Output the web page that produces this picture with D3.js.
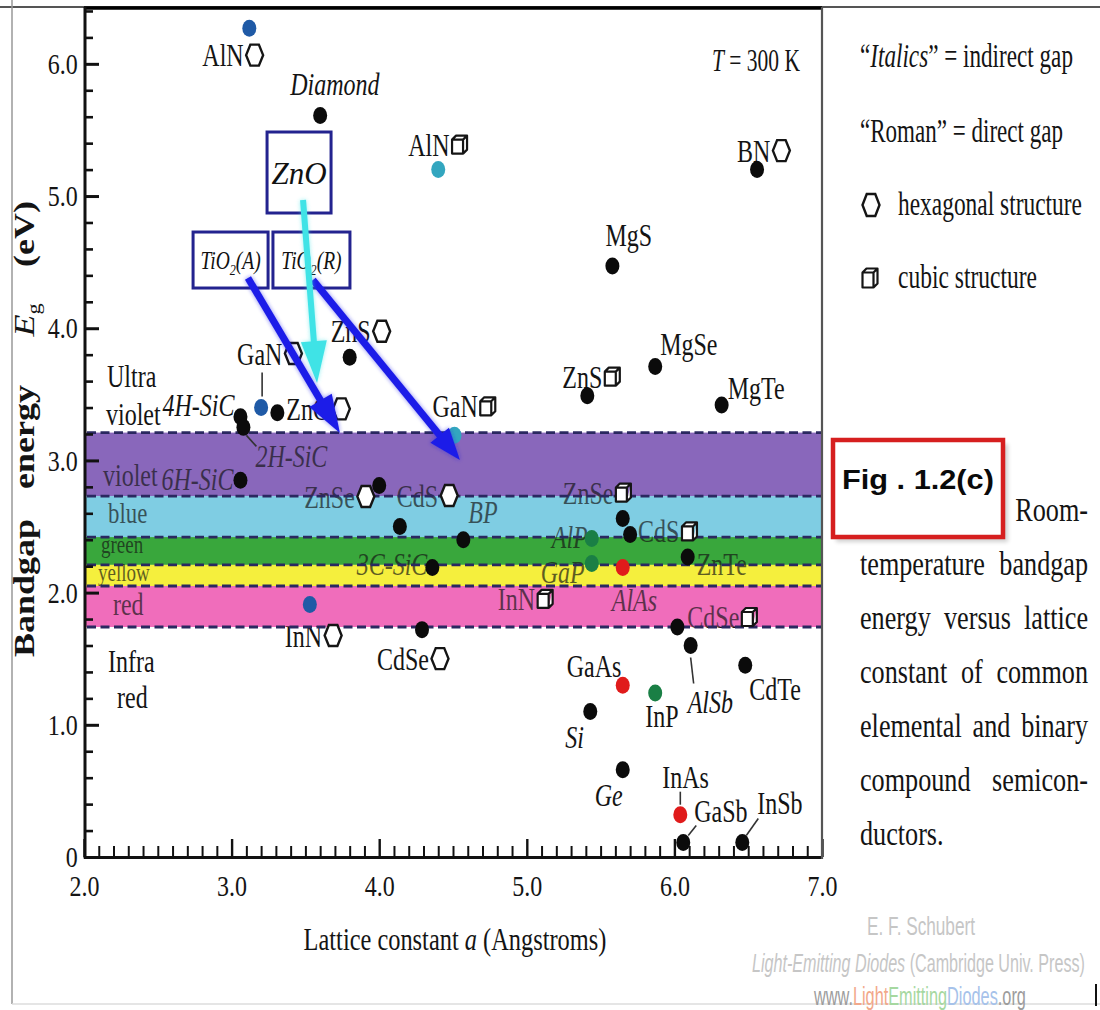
<!DOCTYPE html>
<html><head><meta charset="utf-8">
<script src="https://cdn.jsdelivr.net/npm/d3@7"></script>
<style>html,body{margin:0;padding:0;background:#fff}svg{display:block}</style>
</head><body>
<svg id="chart" width="1100" height="1010"></svg>
<script>
// ---------------- DATA ----------------
const compounds = ["AlN","Diamond","AlN","BN","MgS","ZnS","MgSe","ZnS","MgTe","GaN","ZnO","4H-SiC","2H-SiC","6H-SiC","GaN","ZnSe","CdS","BP","3C-SiC","InN","CdSe","ZnSe","CdS","AlP","GaP","AlAs","ZnTe","CdSe","AlSb","CdTe","GaAs","InP","Si","Ge","InAs","GaSb","InSb","InN"];
const latticeConstant = [3.12,3.60,4.40,6.56,5.58,3.80,5.87,5.41,6.32,3.20,3.31,3.06,3.08,3.06,4.51,4.00,4.14,4.57,4.36,3.53,4.29,5.65,5.70,5.44,5.44,5.65,6.09,6.02,6.11,6.48,5.65,5.87,5.43,5.65,6.04,6.06,6.46,4.98];
const bandgapEnergy = [6.27,5.61,5.20,5.20,4.47,3.78,3.71,3.49,3.42,3.40,3.36,3.33,3.25,2.85,3.19,2.81,2.50,2.40,2.19,1.91,1.72,2.56,2.44,2.41,2.22,2.19,2.27,1.74,1.60,1.45,1.30,1.24,1.10,0.66,0.32,0.11,0.11,1.93];
const gapType = ["direct","indirect","direct","direct","direct","direct","direct","direct","direct","direct","direct","indirect","indirect","indirect","direct","direct","direct","indirect","indirect","direct","direct","direct","direct","indirect","indirect","indirect","direct","direct","indirect","direct","direct","direct","indirect","indirect","direct","direct","direct","direct"];
const crystal = ["hex","","cub","hex","","hex","","cub","","hex","hex","","","","cub","hex","hex","","","hex","hex","cub","cub","","","","","cub","","","","","","","","","","cub"];
const dotGroup = ["blue","black","teal","black","black","black","black","black","black","blue","black","black","black","black","teal","black","black","black","black","blue","black","black","black","green","green","red","black","black","black","black","red","green","black","black","red","black","black","none"];

const bandNames = ["violet","blue","green","yellow","red"];
const bandTop =    [3.21, 2.73, 2.42, 2.21, 2.05];
const bandBottom = [2.73, 2.42, 2.21, 2.05, 1.74];
const bandEdges = [3.21, 2.73, 2.42, 2.21, 2.05, 1.74];

const spectrumLabels = ["Ultra","violet","violet","blue","green","yellow","red","Infra","red"];
const spectrumLabelA  = [2.156,2.149,2.129,2.163,2.115,2.095,2.196,2.163,2.224];
const spectrumLabelEg = [3.555,3.268,2.806,2.530,2.300,2.085,1.831,1.399,1.127];

const xTickValues = [2,3,4,5,6,7];
const xTickLabels = ["2.0","3.0","4.0","5.0","6.0","7.0"];
const yTickValues = [0,1,2,3,4,5,6];
const yTickLabels = ["0","1.0","2.0","3.0","4.0","5.0","6.0"];

const oxideLabels = ["ZnO","TiO2(A)","TiO2(R)"];
const oxideBoxA  = [3.457, 2.993, 3.541];
const oxideBoxEg = [5.178, 4.516, 4.516];
const arrowStartA  = [3.484, 3.111, 3.551];
const arrowStartEg = [4.970, 4.380, 4.365];
const arrowEndA    = [3.579, 3.734, 4.547];
const arrowEndEg   = [3.585, 3.207, 3.003];

// ---------------- LAYOUT / STYLE ----------------
const labelLayout = [[-47,38,"start"],[-30,-20,"start"],[-30,-14,"start"],[-20,-8,"start"],[-7,-20,"start"],[-19,-15,"start"],[5,-12,"start"],[-25,-8,"start"],[6,-6,"start"],[-24,-43,"start"],[9,7,"start"],[-6,-1,"end"],[12,40,"start"],[-7,10,"end"],[-22,-18,"start"],[-75,22,"start"],[-3,-20,"start"],[5,-17,"start"],[-5,8,"end"],[-25,42,"start"],[-45,40,"start"],[-60,-15,"start"],[8,8,"start"],[-4,10,"end"],[-7,19,"end"],[-11,44,"start"],[9,18,"start"],[10,1,"start"],[-3,68,"start"],[4,35,"start"],[-56,-8,"start"],[-10,34,"start"],[-25,36,"start"],[-28,36,"start"],[-18,-27,"start"],[11,-20,"start"],[15,-28,"start"],[-26,8,"start"]];
const leaders = {9:[1,-35,1,-11],12:[3,8,13,19],28:[0,12,3,38],34:[0,-23,0,-10],35:[5,-7,13,-17],36:[4,-7,16,-24]};
const dotColors = {black:"#0b0b0b",blue:"#1f5aa6",teal:"#33a6bf",red:"#e01b1b",green:"#1a7f45"};
const bandColors = {violet:"#8a68bb",blue:"#7fcde3",green:"#3aa83c",yellow:"#f5ef3e",red:"#f06dbb"};
const SERIF = "'Liberation Serif','Times New Roman',serif";
const SANS = "'Liberation Sans',Arial,sans-serif";
const INK = "#141414";

const svg = d3.select("#chart");
const x = d3.scaleLinear().domain([2,7]).range([84,822]);
const y = d3.scaleLinear().domain([0,6.43]).range([857,7]);

function addText(parent, px, py, parts, o){
  const sx = o.sx || 1;
  const t = parent.append("text")
    .attr("font-family", o.family || SERIF)
    .attr("font-size", o.size)
    .attr("font-weight", o.weight || "normal")
    .attr("text-anchor", o.anchor || "start")
    .attr("fill", o.fill || INK);
  parts.forEach(p=>{
    const ts = t.append("tspan").text(p.t);
    if (p.italic) ts.attr("font-style","italic");
    if (p.fill) ts.attr("fill",p.fill);
    if (p.sub) ts.attr("font-size", o.size*0.62).attr("dy", o.size*0.22);
    if (p.unsub) ts.attr("dy", -o.size*0.22);
  });
  let s = sx;
  if (o.width) s = o.width / t.node().getComputedTextLength();
  t.attr("transform", `translate(${px},${py}) scale(${s},1)` + (o.rotate ? ` rotate(${o.rotate})` : ""));
  return t;
}
function hexPath(cx, cy, w, h){
  return `M${cx-w/2},${cy}L${cx-w/4},${cy-h/2}L${cx+w/4},${cy-h/2}L${cx+w/2},${cy}L${cx+w/4},${cy+h/2}L${cx-w/4},${cy+h/2}Z`;
}
function cubePath(cx, cy, w, h){
  const d=4, l=cx-w/2, r=cx+w/2, t=cy-h/2, b=cy+h/2;
  return `M${l},${t+d}H${r-d}V${b}H${l}Z M${l},${t+d}L${l+d},${t}H${r}L${r-d},${t+d} M${r},${t}V${b-d}L${r-d},${b}`;
}

// layers
const gBand = svg.append("g");
const gText = svg.append("g");
const gOverlay = svg.append("g");
const gDash = svg.append("g");
const gAxis = svg.append("g");
const gLead = svg.append("g");
const gDot = svg.append("g");
const gMark = svg.append("g");
const gAnno = svg.append("g");
const gSide = svg.append("g");

// ---------------- bands ----------------
bandNames.forEach((b,i)=>{
  gBand.append("rect").attr("x",x(2)).attr("width",x(7)-x(2))
    .attr("y",y(bandTop[i])).attr("height",y(bandBottom[i])-y(bandTop[i]))
    .attr("fill",bandColors[b]);
  gOverlay.append("rect").attr("x",x(2)).attr("width",x(7)-x(2))
    .attr("y",y(bandTop[i])).attr("height",y(bandBottom[i])-y(bandTop[i]))
    .attr("fill",bandColors[b]).attr("opacity",0.33);
});
bandEdges.forEach(e=>{
  gDash.append("line").attr("x1",x(2)+3).attr("x2",x(7)).attr("y1",y(e)).attr("y2",y(e))
    .attr("stroke","#2a2860").attr("stroke-width",2.8).attr("stroke-dasharray","9,4.5");
});

// spectrum labels
const specSize = {green:25, yellow:25, blue:30};
spectrumLabels.forEach((s,i)=>{
  const sz = specSize[s] || 32;
  addText(gText, x(spectrumLabelA[i]), y(spectrumLabelEg[i]), [{t:s}], {size: sz, sx: sz<32?0.76:0.75});
});

// ---------------- axes ----------------
function styleAxis(g){ g.select(".domain").remove(); g.selectAll("line").attr("stroke","#111"); }
const yMinor = d3.range(0,6.41,0.2).filter(v=>Math.abs(v-Math.round(v))>1e-6);
gAxis.append("g").attr("transform",`translate(${x(2)+1},0)`)
  .call(d3.axisLeft(y).tickValues(yMinor).tickSize(-8).tickFormat(""))
  .call(styleAxis).selectAll("line").attr("stroke-width",2.6);
gAxis.append("g").attr("transform",`translate(${x(2)+1},0)`)
  .call(d3.axisLeft(y).tickValues(yTickValues).tickSize(-14).tickPadding(9).tickFormat((d,i)=>yTickLabels[i]))
  .call(g=>{styleAxis(g); g.selectAll("line").attr("stroke-width",3);
    g.selectAll("text").attr("font-family",SERIF).attr("font-size",30).attr("fill",INK)
     .attr("transform","scale(0.8,1)");});
const xMinor = d3.range(2,7.001,0.1).filter(v=>Math.abs(v-Math.round(v))>1e-6);
gAxis.append("g").attr("transform",`translate(0,${y(0)})`)
  .call(d3.axisBottom(x).tickValues(xMinor).tickSize(-11).tickFormat(""))
  .call(styleAxis).selectAll("line").attr("stroke-width",2);
gAxis.append("g").attr("transform",`translate(0,${y(0)})`)
  .call(d3.axisBottom(x).tickValues(xTickValues).tickSize(-18).tickPadding(18).tickFormat((d,i)=>xTickLabels[i]))
  .call(g=>{styleAxis(g); g.selectAll("line").attr("stroke-width",2.4);
    g.selectAll("text").attr("font-family",SERIF).attr("font-size",30).attr("fill",INK)
     .attr("transform","scale(0.8,1)");});
// frame
gAxis.append("line").attr("x1",0).attr("x2",1100).attr("y1",7).attr("y2",7).attr("stroke","#555").attr("stroke-width",2);
gAxis.append("line").attr("x1",x(2)).attr("x2",x(7)).attr("y1",y(6.43)+1).attr("y2",y(6.43)+1).attr("stroke","#000").attr("stroke-width",3.5);
gAxis.append("line").attr("x1",x(2)+1).attr("x2",x(2)+1).attr("y1",7).attr("y2",y(0)+1.5).attr("stroke","#111").attr("stroke-width",3);
gAxis.append("line").attr("x1",x(2)).attr("x2",x(7)).attr("y1",y(0)+0.5).attr("y2",y(0)+0.5).attr("stroke","#111").attr("stroke-width",3);
gAxis.append("line").attr("x1",x(7)).attr("x2",x(7)).attr("y1",7).attr("y2",y(0)+2).attr("stroke","#555").attr("stroke-width",2.2);
gAxis.append("line").attr("x1",12).attr("x2",12).attr("y1",0).attr("y2",1004).attr("stroke","#999").attr("stroke-width",1.5);
gAxis.append("line").attr("x1",12).attr("x2",1100).attr("y1",1004).attr("y2",1004).attr("stroke","#ddd").attr("stroke-width",1.5);
gAxis.append("line").attr("x1",1096).attr("x2",1096).attr("y1",984).attr("y2",1006).attr("stroke","#111").attr("stroke-width",2);

// axis titles
addText(gAxis, 455, 950, [{t:"Lattice constant "},{t:"a",italic:true},{t:" (Angstroms)"}], {size:32, width:303, anchor:"middle"});
addText(gAxis, 34, 588, [{t:"Bandgap"}], {size:36, weight:"bold", sx:0.8, rotate:-90, anchor:"middle"});
addText(gAxis, 34, 437, [{t:"energy"}], {size:36, weight:"bold", sx:0.8, rotate:-90, anchor:"middle"});
addText(gAxis, 34, 320, [{t:"E",italic:true},{t:"g",sub:true}], {size:36, sx:0.8, rotate:-90, anchor:"middle"});
addText(gAxis, 34, 234, [{t:"(eV)"}], {size:36, weight:"bold", sx:0.8, rotate:-90, anchor:"middle"});
addText(gAxis, 712, 71, [{t:"T",italic:true},{t:" = 300 K"}], {size:32, width:88});

// ---------------- compounds ----------------
compounds.forEach((name,i)=>{
  const px = x(latticeConstant[i]), py = y(bandgapEnergy[i]);
  const [dx,dy,anchor] = labelLayout[i];
  const t = addText(gText, px+dx, py+dy, [{t:name, italic: gapType[i]==="indirect"}], {size:32, sx:0.75, anchor});
  if (crystal[i]) {
    const w = t.node().getComputedTextLength()*0.75;
    const endX = anchor==="end" ? px+dx : px+dx+w;
    const cy = py+dy-11;
    if (crystal[i]==="hex")
      gMark.append("path").attr("d",hexPath(endX+11, cy, 17, 21)).attr("fill","#fff").attr("stroke","#151515").attr("stroke-width",2.4);
    else
      gMark.append("path").attr("d",cubePath(endX+10, cy, 15, 18)).attr("fill","#fff").attr("stroke","#151515").attr("stroke-width",2.2).attr("stroke-linejoin","round");
  }
  if (leaders[i]) {
    const L = leaders[i];
    gLead.append("line").attr("x1",px+L[0]).attr("y1",py+L[1]).attr("x2",px+L[2]).attr("y2",py+L[3])
      .attr("stroke","#333").attr("stroke-width",1.6);
  }
  if (dotGroup[i] !== "none")
    gDot.append("ellipse").attr("cx",px).attr("cy",py).attr("rx",7).attr("ry",8.5).attr("fill",dotColors[dotGroup[i]]);
});

// ---------------- oxide annotations ----------------
const boxSize = {"ZnO":[64,81],"TiO2(A)":[75,56],"TiO2(R)":[77,56]};
oxideLabels.forEach((lab,i)=>{
  const cx = x(oxideBoxA[i]), cy = y(oxideBoxEg[i]);
  const [w,h] = boxSize[lab];
  gAnno.append("rect").attr("x",cx-w/2).attr("y",cy-h/2).attr("width",w).attr("height",h)
    .attr("fill","#fff").attr("stroke","#23238f").attr("stroke-width",3);
  if (lab==="ZnO") addText(gAnno, cx, cy+11, [{t:"ZnO",italic:true}], {size:31, anchor:"middle", fill:"#111"});
  else addText(gAnno, cx, cy+9, [{t:"TiO",italic:true},{t:"2",sub:true,italic:true},{t:"("+lab.slice(-2,-1)+")",italic:true,unsub:true}], {size:25, sx:0.78, anchor:"middle", fill:"#111"});
});
const defs = svg.append("defs");
defs.append("filter").attr("id","glow").attr("x","-20%").attr("y","-20%").attr("width","140%").attr("height","140%")
  .append("feGaussianBlur").attr("stdDeviation",2.2);
function arrow(x1,y1,x2,y2,color,width,headL,headW){
  const ang = Math.atan2(y2-y1,x2-x1), ux=Math.cos(ang), uy=Math.sin(ang), nx=-uy, ny=ux;
  const bx = x2-ux*headL, by = y2-uy*headL;
  const pts = [[x1+nx*width/2,y1+ny*width/2],[bx+nx*width/2,by+ny*width/2],[bx+nx*headW,by+ny*headW],[x2,y2],
               [bx-nx*headW,by-ny*headW],[bx-nx*width/2,by-ny*width/2],[x1-nx*width/2,y1-ny*width/2]];
  const d = "M"+pts.map(p=>p.join(",")).join("L")+"Z";
  gAnno.append("path").attr("d",d).attr("fill",color).attr("opacity",0.55).attr("filter","url(#glow)");
  gAnno.append("path").attr("d",d).attr("fill",color);
}
arrow(x(arrowStartA[2]),y(arrowStartEg[2]),x(arrowEndA[2]),y(arrowEndEg[2]),"#1c1ce8",7,32,12);
arrow(x(arrowStartA[0]),y(arrowStartEg[0]),x(arrowEndA[0]),y(arrowEndEg[0]),"#3fe3e6",6,42,13);
arrow(x(arrowStartA[1]),y(arrowStartEg[1]),x(arrowEndA[1]),y(arrowEndEg[1]),"#1c1ce8",7,38,13);

// ---------------- side legend & caption ----------------
addText(gSide, 860, 67, [{t:"\u201C"},{t:"Italics",italic:true},{t:"\u201D = indirect gap"}], {size:34, width:213});
addText(gSide, 860, 142, [{t:"\u201CRoman\u201D = direct gap"}], {size:34, width:203});
gSide.append("path").attr("d",hexPath(871,205,17,22)).attr("fill","#fff").attr("stroke","#151515").attr("stroke-width",2.4);
addText(gSide, 898, 215, [{t:"hexagonal structure"}], {size:34, width:184});
gSide.append("path").attr("d",cubePath(870,278,15,19)).attr("fill","#fff").attr("stroke","#151515").attr("stroke-width",2.2).attr("stroke-linejoin","round");
addText(gSide, 898, 288, [{t:"cubic structure"}], {size:34, width:139});

const captionLines = [["temperature","bandgap"],["energy","versus","lattice"],["constant","of","common"],["elemental","and","binary"],["compound","semicon-"]];
const capSX = 0.77;
addText(gSide, 1088, 521, [{t:"Room-"}], {size:34, sx:capSX, anchor:"end"});
captionLines.forEach((words,li)=>{
  const yb = 575 + li*54;
  const nodes = words.map(w=>addText(gSide,0,yb,[{t:w}],{size:34,sx:capSX}));
  const widths = nodes.map(n=>n.node().getComputedTextLength()*capSX);
  const gap = (1088-860-d3.sum(widths))/(words.length-1);
  let cx = 860;
  nodes.forEach((n,k)=>{ n.attr("transform",`translate(${cx},${yb}) scale(${capSX},1)`); cx += widths[k]+gap; });
});
addText(gSide, 860, 845, [{t:"ductors."}], {size:34, sx:capSX});

// Fig box
gSide.append("rect").attr("x",836).attr("y",444).attr("width",172).attr("height",98).attr("fill","#000").attr("opacity",0.18).attr("filter","url(#glow)");
gSide.append("rect").attr("x",833).attr("y",440).attr("width",170).attr("height",97).attr("fill","#fff").attr("stroke","#d61f1f").attr("stroke-width",4.5);
addText(gSide, 842, 489, [{t:"Fig . 1.2(c)"}], {size:28, family:SANS, weight:"bold", width:152, fill:"#0a0a0a"});

// credits
addText(gSide, 921, 935, [{t:"E. F. Schubert"}], {size:26, family:SANS, width:108, anchor:"middle", fill:"#c6c6c6"});
addText(gSide, 752, 972, [{t:"Light-Emitting Diodes",italic:true},{t:" (Cambridge Univ. Press)"}], {size:26, family:SANS, width:333, fill:"#c6c6c6"});
addText(gSide, 814, 1005, [{t:"www.",fill:"#9c9c9c"},{t:"Light",fill:"#f2a88a"},{t:"Emitting",fill:"#a6d8a0"},{t:"Diodes",fill:"#a6c2ea"},{t:".org",fill:"#9c9c9c"}], {size:26, family:SANS, width:212});
</script>
</body></html>
